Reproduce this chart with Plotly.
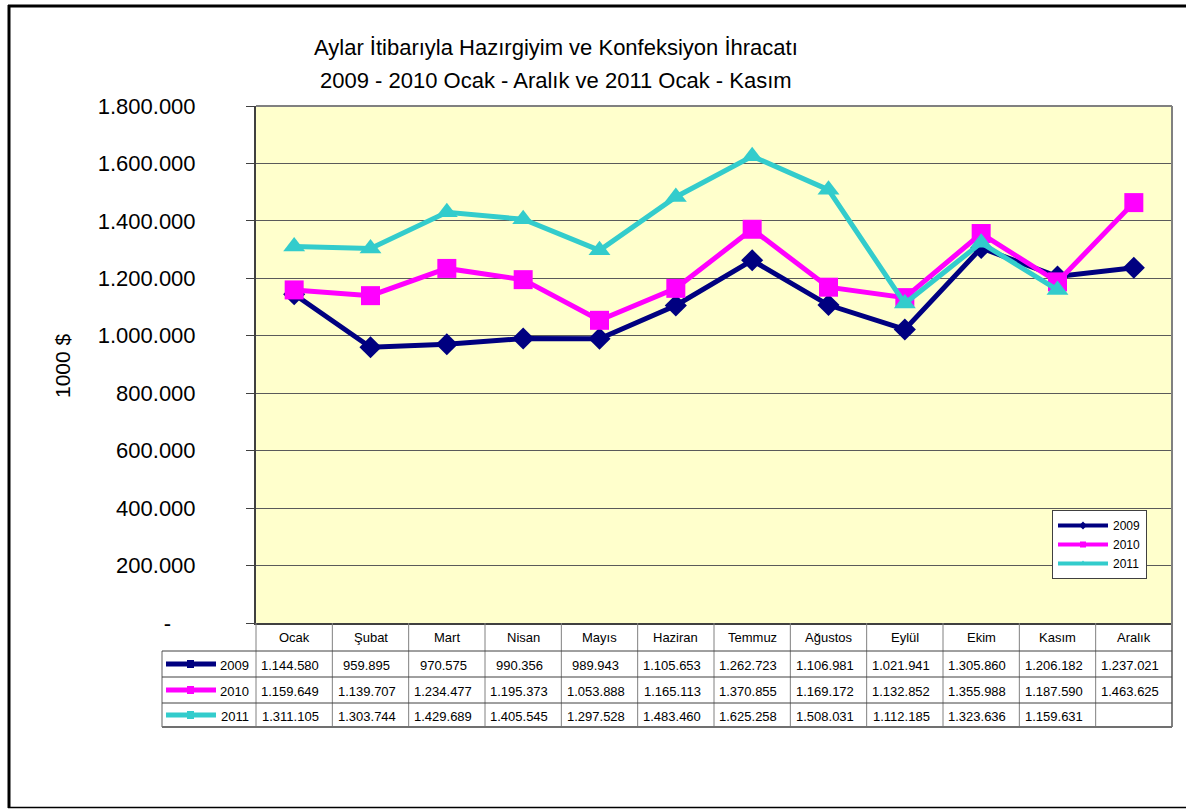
import plotly.graph_objects as go

months = ["Ocak", "Şubat", "Mart", "Nisan", "Mayıs", "Haziran", "Temmuz",
          "Ağustos", "Eylül", "Ekim", "Kasım", "Aralık"]
years = ["2009", "2010", "2011"]
v2009 = [1144580, 959895, 970575, 990356, 989943, 1105653, 1262723,
         1106981, 1021941, 1305860, 1206182, 1237021]
v2010 = [1159649, 1139707, 1234477, 1195373, 1053888, 1165113, 1370855,
         1169172, 1132852, 1355988, 1187590, 1463625]
v2011 = [1311105, 1303744, 1429689, 1405545, 1297528, 1483460, 1625258,
         1508031, 1112185, 1323636, 1159631, None]
ytick_vals = [0, 200000, 400000, 600000, 800000, 1000000, 1200000,
              1400000, 1600000, 1800000]
ytick_text = ["-\u00a0\u00a0\u00a0\u00a0", "200.000", "400.000", "600.000", "800.000",
              "1.000.000", "1.200.000", "1.400.000", "1.600.000", "1.800.000"]

series = [v2009, v2010, v2011]
colors = ["#000080", "#FF00FF", "#33CCCC"]
symbols = ["diamond", "square", "triangle-up"]
msizes = [17, 19, 19]

FONT = "Arial, Liberation Sans, sans-serif"
W, H = 1186, 809
L, R, T, B = 256, 1172, 106, 623


def px_x(x):
    return (x - L) / (R - L)


def px_y(y):
    return (B - y) / (B - T)


def fmt(v):
    if v is None:
        return ""
    return f"{v:,}".replace(",", ".")


fig = go.Figure()
for name, vals, c, s, ms in zip(years, series, colors, symbols, msizes):
    fig.add_trace(go.Scatter(
        x=months, y=vals, mode="lines+markers", name=name, showlegend=False,
        line=dict(color=c, width=5),
        marker=dict(symbol=s, size=ms, color=c),
        connectgaps=False,
    ))
# legend entries (small symbols like the reference)
for name, c, s in zip(years, colors, symbols):
    fig.add_trace(go.Scatter(
        x=[None], y=[None], mode="lines+markers", name=name,
        line=dict(color=c, width=4), marker=dict(symbol=s, size=6, color=c),
    ))

shapes = []
# plot area top/right border
shapes.append(dict(type="line", xref="paper", yref="paper", x0=0, x1=1, y0=1, y1=1,
                   line=dict(color="#808080", width=2)))
shapes.append(dict(type="line", xref="paper", yref="paper", x0=1, x1=1, y0=1, y1=px_y(727),
                   line=dict(color="#808080", width=2)))
# table vertical lines
for k in range(12):
    shapes.append(dict(type="line", xref="paper", yref="paper", x0=k / 12, x1=k / 12,
                       y0=0, y1=px_y(727), line=dict(color="#808080", width=1)))
shapes.append(dict(type="line", xref="paper", yref="paper", x0=px_x(162), x1=px_x(162),
                   y0=px_y(651), y1=px_y(727), line=dict(color="#606060", width=1)))
# table horizontal lines
for yy in [651, 677, 703]:
    shapes.append(dict(type="line", xref="paper", yref="paper", x0=px_x(162), x1=1,
                       y0=px_y(yy), y1=px_y(yy), line=dict(color="#404040", width=1)))
shapes.append(dict(type="line", xref="paper", yref="paper", x0=px_x(162), x1=1,
                   y0=px_y(727), y1=px_y(727), line=dict(color="#707070", width=2)))
# outer chart border
shapes.append(dict(type="line", xref="paper", yref="paper", x0=px_x(8), x1=px_x(1190),
                   y0=px_y(6), y1=px_y(6), line=dict(color="#000000", width=3)))
shapes.append(dict(type="line", xref="paper", yref="paper", x0=px_x(9), x1=px_x(9),
                   y0=px_y(5), y1=px_y(808), line=dict(color="#000000", width=3)))
shapes.append(dict(type="line", xref="paper", yref="paper", x0=px_x(8), x1=px_x(1190),
                   y0=px_y(807.5), y1=px_y(807.5), line=dict(color="#000000", width=1.5)))

annotations = []
row_y = [664, 690, 715]
# table legend keys
for name, c, yy in zip(years, colors, row_y):
    shapes.append(dict(type="line", xref="paper", yref="paper", x0=px_x(166), x1=px_x(216),
                       y0=px_y(yy), y1=px_y(yy), line=dict(color=c, width=5)))
    shapes.append(dict(type="rect", xref="paper", yref="paper", x0=px_x(187), x1=px_x(194),
                       y0=px_y(yy + 4), y1=px_y(yy - 4), line=dict(width=0), fillcolor=c))
    annotations.append(dict(text=name, xref="paper", yref="paper", x=px_x(251), y=px_y(yy + 1),
                            xanchor="right", yanchor="middle", showarrow=False,
                            font=dict(family=FONT, size=13, color="#000000")))
# month header
for m in months:
    annotations.append(dict(text=m, xref="x", yref="paper", x=m, y=px_y(637),
                            xanchor="center", yanchor="middle", showarrow=False,
                            font=dict(family=FONT, size=13, color="#000000")))
# values
for vals, yy in zip(series, row_y):
    for i, v in enumerate(vals):
        if v is None:
            continue
        annotations.append(dict(text=fmt(v), xref="paper", yref="paper",
                                x=(i + 0.45) / 12, y=px_y(yy + 1),
                                xanchor="center", yanchor="middle", showarrow=False,
                                font=dict(family=FONT, size=13, color="#000000")))
# title
annotations.append(dict(text="Aylar İtibarıyla Hazırgiyim ve Konfeksiyon İhracatı",
                        xref="paper", yref="paper", x=px_x(556), y=px_y(47),
                        xanchor="center", yanchor="middle", showarrow=False,
                        font=dict(family=FONT, size=22, color="#000000")))
annotations.append(dict(text="2009 - 2010 Ocak - Aralık ve 2011 Ocak - Kasım",
                        xref="paper", yref="paper", x=px_x(556), y=px_y(80),
                        xanchor="center", yanchor="middle", showarrow=False,
                        font=dict(family=FONT, size=22, color="#000000")))
# y-axis title
annotations.append(dict(text="1000 $", xref="paper", yref="paper", x=px_x(62), y=px_y(366),
                        xanchor="center", yanchor="middle", showarrow=False, textangle=-90,
                        font=dict(family=FONT, size=21, color="#000000")))

fig.update_layout(
    width=W, height=H,
    margin=dict(l=L, r=W - R, t=T, b=H - B, pad=0),
    paper_bgcolor="#FFFFFF",
    plot_bgcolor="#FFFFCC",
    font=dict(family=FONT, color="#000000"),
    shapes=shapes,
    annotations=annotations,
    xaxis=dict(type="category", range=[-0.5, 11.5], showgrid=False, showticklabels=False,
               ticks="", showline=True, linecolor="#404040", linewidth=2, zeroline=False,
               fixedrange=True),
    yaxis=dict(range=[0, 1800000], tickvals=ytick_vals, ticktext=ytick_text,
               showgrid=True, gridcolor="#5a5a5a", gridwidth=1,
               showline=True, linecolor="#404040", linewidth=2,
               ticks="outside", ticklen=8, tickcolor="#404040", tickwidth=1,
               ticklabelstandoff=46, zeroline=False,
               tickfont=dict(family=FONT, size=22, color="#000000"), fixedrange=True),
    legend=dict(x=px_x(1052), y=px_y(510), xanchor="left", yanchor="top",
                bgcolor="#FFFFFF", bordercolor="#404040", borderwidth=1,
                font=dict(family=FONT, size=12, color="#000000"),
                tracegroupgap=0, itemwidth=50, entrywidth=76),
    showlegend=True,
)

fig.write_html("out.html", config={"displayModeBar": False},
               post_script="document.body.style.margin='0px';document.body.style.padding='0px';")
